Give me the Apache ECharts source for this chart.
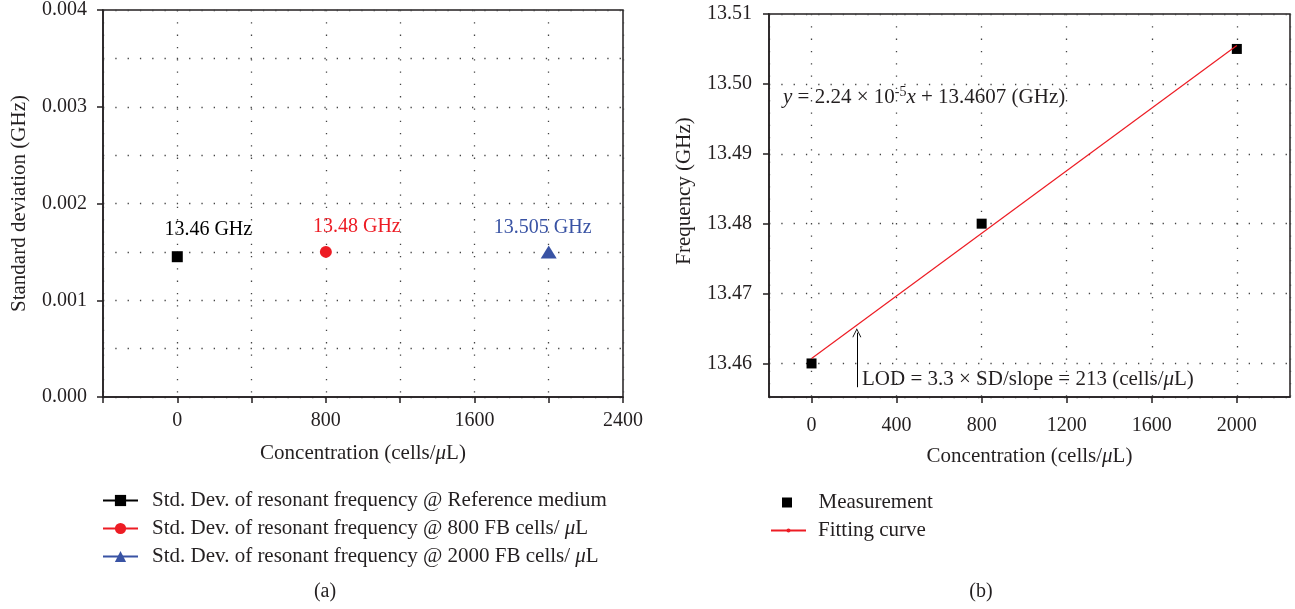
<!DOCTYPE html>
<html><head><meta charset="utf-8">
<script src="https://cdn.jsdelivr.net/npm/echarts@6/dist/echarts.min.js"></script>
<style>html,body{margin:0;padding:0;background:#fff}#c{width:1295px;height:609px}</style>
</head><body><div id="c"></div>
<script>
const FONT = '"Liberation Serif", "DejaVu Serif", serif';
const INK = '#231f20';

// ---- Panel (a): standard deviation ----
const sdNames = [
  'Std. Dev. of resonant frequency @ Reference medium',
  'Std. Dev. of resonant frequency @ 800 FB cells/ \u03bcL',
  'Std. Dev. of resonant frequency @ 2000 FB cells/ \u03bcL'
];
const sdX = [0, 800, 2000];
const sdY = [0.00145, 0.0015, 0.0015];
const sdLabels = ['13.46 GHz', '13.48 GHz', '13.505 GHz'];
const sdColors = ['#000000', '#ed1c24', '#3953a4'];
const sdSymbols = ['rect', 'circle', 'triangle'];
const sdSizes = [11, 12, [16, 13]];
const sdLabelOffsets = [[31, -27], [31, -25], [-6, -24]];

// ---- Panel (b): frequency vs concentration ----
const measX = [0, 800, 2000];
const measY = [13.46, 13.48, 13.505];
const fitX = [0, 2000];
const fitY = [13.4607, 13.5055];
const lodX = 213;
const lodY = [13.4566, 13.4644];

const TXT = 21;
const italicMu = s => s.replace('\u03bc', '{i|\u03bc}');
const richI = {i: {fontFamily: FONT, fontSize: TXT, fontStyle: 'italic', color: INK}};
const gridLine = {color: '#444', width: 1.3, type: [1.3, 11]};
const axisLine = {onZero: false, lineStyle: {color: INK, width: 1.5}};
const labelStyle = {fontFamily: FONT, fontSize: 20, color: INK};
const nameStyle = {fontFamily: FONT, fontSize: TXT, color: INK, rich: richI};
const legendText = {fontFamily: FONT, fontSize: TXT, color: INK, lineHeight: 20, rich: {
  i: {fontFamily: FONT, fontSize: TXT, fontStyle: 'italic', color: INK, lineHeight: 20}}};

const series = [];
sdNames.forEach((n, i) => {
  series.push({
    name: n, type: 'line', xAxisIndex: 0, yAxisIndex: 0,
    data: [[sdX[i], sdY[i]]],
    symbol: sdSymbols[i], symbolSize: sdSizes[i],
    itemStyle: {color: sdColors[i], opacity: 1},
    lineStyle: {color: sdColors[i], width: 1.2},
    label: {
      show: true, position: 'inside', offset: sdLabelOffsets[i],
      formatter: () => sdLabels[i],
      fontFamily: FONT, fontSize: 20, color: sdColors[i]
    },
    animation: false
  });
});
series.push({
  name: 'Fitting curve', type: 'line', xAxisIndex: 1, yAxisIndex: 1,
  data: fitX.map((x, i) => [x, fitY[i]]),
  symbol: 'circle', symbolSize: 4, showSymbol: false,
  itemStyle: {color: '#ed1c24'},
  lineStyle: {color: '#ed1c24', width: 1.2},
  markLine: {
    silent: true, animation: false,
    symbol: ['none', 'path://M0,10 L5,0 L10,10 L9,10 L5,2 L1,10 Z'],
    symbolSize: [9, 9],
    lineStyle: {color: '#000', width: 1, type: 'solid'},
    label: {show: false},
    data: [[{coord: [lodX, lodY[0]]}, {coord: [lodX, lodY[1]]}]]
  },
  animation: false
});
series.push({
  name: 'Measurement', type: 'scatter', xAxisIndex: 1, yAxisIndex: 1,
  data: measX.map((x, i) => [x, measY[i]]),
  symbol: 'rect', symbolSize: 10,
  itemStyle: {color: '#000', opacity: 1},
  animation: false
});

const option = {
  animation: false,
  grid: [
    {left: 103, top: 9, width: 520, height: 388, show: true, borderColor: INK, borderWidth: 1.5},
    {left: 769, top: 14, width: 521, height: 383, show: true, borderColor: INK, borderWidth: 1.5}
  ],
  xAxis: [
    {
      type: 'value', gridIndex: 0, min: -400, max: 2400, interval: 400,
      axisLine: axisLine, axisTick: {show: true, length: 6, lineStyle: {color: INK, width: 1.5}},
      axisLabel: Object.assign({margin: 14, formatter: v => (v >= 0 && v % 800 === 0) ? String(v) : ''}, labelStyle),
      splitLine: {show: true, lineStyle: gridLine},
      name: italicMu('Concentration (cells/\u03bcL)'), nameLocation: 'middle', nameGap: 46,
      nameTextStyle: nameStyle
    },
    {
      type: 'value', gridIndex: 1, min: -200, max: 2250, minInterval: 400, maxInterval: 400,
      axisLine: axisLine, axisTick: {show: true, length: 6, lineStyle: {color: INK, width: 1.5}},
      axisLabel: Object.assign({margin: 19, showMinLabel: false, showMaxLabel: false,
        formatter: v => (v >= 0 && v % 400 === 0) ? String(v) : ''}, labelStyle),
      splitLine: {show: true, lineStyle: gridLine},
      name: italicMu('Concentration (cells/\u03bcL)'), nameLocation: 'middle', nameGap: 49,
      nameTextStyle: nameStyle
    }
  ],
  yAxis: [
    {
      type: 'value', gridIndex: 0, min: 0, max: 0.004, interval: 0.001,
      axisLine: axisLine, axisTick: {show: true, length: 6, lineStyle: {color: INK, width: 1.5}},
      axisLabel: Object.assign({margin: 16, formatter: v => v.toFixed(3)}, labelStyle),
      splitLine: {show: true, lineStyle: gridLine},
      minorTick: {show: false, splitNumber: 2},
      minorSplitLine: {show: true, lineStyle: gridLine},
      name: 'Standard deviation (GHz)', nameLocation: 'middle', nameGap: 73,
      nameTextStyle: nameStyle
    },
    {
      type: 'value', gridIndex: 1, min: 13.4552, max: 13.51, minInterval: 0.01, maxInterval: 0.01,
      axisLine: axisLine, axisTick: {show: true, length: 6, lineStyle: {color: INK, width: 1.5}},
      axisLabel: Object.assign({margin: 17, showMinLabel: false,
        formatter: v => { const r = Math.round(v * 100) / 100; return Math.abs(v - r) < 1e-9 ? r.toFixed(2) : ''; }}, labelStyle),
      splitLine: {show: true, lineStyle: gridLine}
    }
  ],
  legend: [
    {
      data: sdNames, orient: 'vertical', left: 97, top: 485,
      itemWidth: 35, itemHeight: 14, itemGap: 7,
      formatter: italicMu,
      textStyle: Object.assign({padding: [0, 0, 0, 9]}, legendText),
      selectedMode: false
    },
    {
      data: [{name: 'Measurement', icon: 'path://M0,0H10V10H0Z'}], left: 777, top: 487,
      itemWidth: 35, itemHeight: 10, symbolKeepAspect: true,
      textStyle: Object.assign({padding: [0, 0, 0, 9]}, legendText),
      selectedMode: false
    },
    {
      data: ['Fitting curve'], left: 765, top: 515,
      itemWidth: 35, itemHeight: 5,
      textStyle: Object.assign({padding: [0, 0, 0, 7]}, legendText),
      selectedMode: false
    }
  ],
  graphic: [
    {type: 'text', x: 684, y: 191, rotation: Math.PI / 2,
      style: {text: 'Frequency (GHz)', font: TXT + 'px ' + FONT, fill: INK, textAlign: 'center', textVerticalAlign: 'middle'}},
    {type: 'text', x: 783, y: 97,
      style: {
        text: '{i|y} = 2.24 \u00d7 10{sup|-5}{i|x} + 13.4607 (GHz)',
        font: TXT + 'px ' + FONT, fill: INK, textAlign: 'left', textVerticalAlign: 'middle',
        rich: {
          i: {fontFamily: FONT, fontSize: TXT, fontStyle: 'italic', fill: INK},
          sup: {fontFamily: FONT, fontSize: 14, fill: INK, verticalAlign: 'top', lineHeight: 24}
        }
      }},
    {type: 'text', x: 862, y: 379,
      style: {text: 'LOD = 3.3 \u00d7 SD/slope = 213 (cells/{i|\u03bc}L)', font: TXT + 'px ' + FONT, fill: INK,
        textAlign: 'left', textVerticalAlign: 'middle',
        rich: {i: {fontFamily: FONT, fontSize: TXT, fontStyle: 'italic', fill: INK}}}},
    {type: 'text', x: 325, y: 592,
      style: {text: '(a)', font: '20px ' + FONT, fill: INK, textAlign: 'center', textVerticalAlign: 'middle'}},
    {type: 'text', x: 981, y: 592,
      style: {text: '(b)', font: '20px ' + FONT, fill: INK, textAlign: 'center', textVerticalAlign: 'middle'}}
  ],
  series: series
};

const chart = echarts.init(document.getElementById('c'), null, {renderer: 'canvas'});
chart.setOption(option);
</script>
</body></html>
